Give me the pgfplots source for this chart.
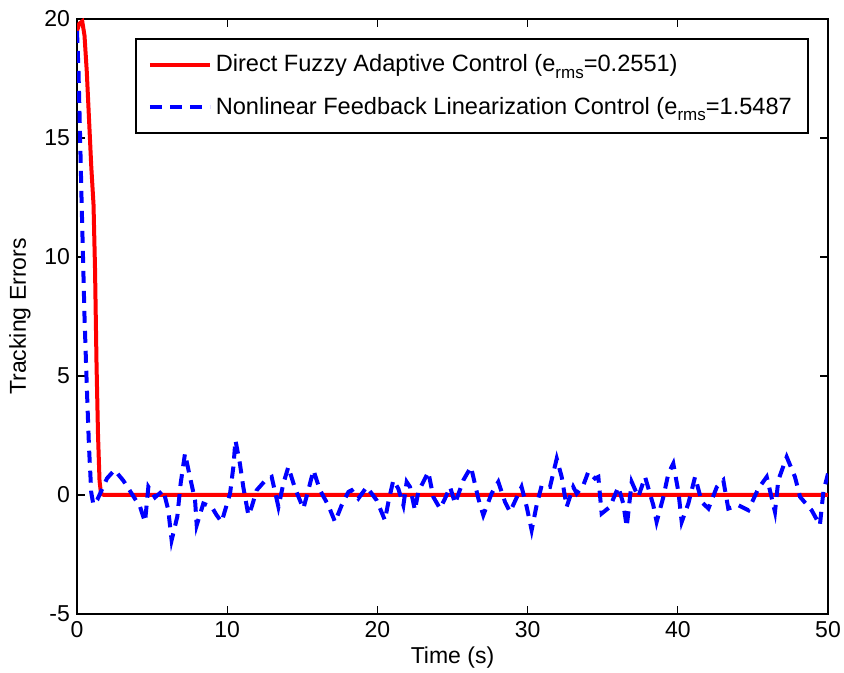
\documentclass[border=0pt]{standalone}
\usepackage{pgfplots}
\pgfplotsset{compat=1.18}
\usepackage{fontspec}
\setmainfont{Liberation Sans}
\newcommand{\sub}[1]{\raisebox{-0.55ex}{\fontsize{8.5}{9}\selectfont #1}}
\begin{document}
\begin{tikzpicture}
\begin{axis}[
  at={(0,0)}, anchor=south west,
  scale only axis, width=375.5pt, height=297.5pt,
  xmin=0, xmax=50, ymin=-5, ymax=20,
  xtick={0,10,...,50}, ytick={-5,0,...,20},
  tick align=inside, major tick length=4pt,
  tick style={black, line width=0.6pt},
  axis line style={black, line width=0.8pt},
  /pgf/number format/assume math mode=true,
  ticklabel style={font=\fontsize{11.5}{13}\selectfont},
  xlabel={Time (s)}, ylabel={Tracking Errors},
  label style={font=\fontsize{11.5}{13}\selectfont},
  xlabel style={at={(axis description cs:0.5,-0.074)}, anchor=center},
  ylabel style={at={(axis description cs:-0.0759,0.5)}, anchor=center},
  legend cell align=left,
  legend style={at={(rel axis cs:0.0772,0.968)}, anchor=north west,
    draw=black, line width=0.8pt, inner xsep=6pt, inner ysep=6pt, row sep=7pt,
    font=\fontsize{11.8}{13.5}\selectfont},
  legend image code/.code={\draw[#1] plot coordinates {(0pt,0pt) (15pt,0pt) (30pt,0pt)};},
]
\addplot[red, line width=2pt] coordinates {
(0,19.5)(0.15,19.8)(0.35,19.9)(0.5,19.3)(0.65,17.8)(0.8,15.8)(0.95,13.8)(1.1,12.2)(1.2,9.5)(1.3,5.5)(1.4,2.5)(1.5,0.6)(1.6,0.05)(1.8,0)(50,0)};
\addlegendentry{Direct Fuzzy Adaptive Control (e\sub{rms}=0.2551)}
\addplot[blue, line width=2pt, dash pattern=on 6pt off 4pt] coordinates {
(0,19.5)(0.1,17.8)(0.2,15.2)(0.3,12.5)(0.4,10)(0.5,7.5)(0.65,4.6)(0.8,2)(0.95,0.1)(1.09,-0.4)(1.35,-0.2)(1.64,0.2)(2.0,0.7)(2.5,1.05)(3.09,0.6)(3.64,0.06)(4.2,-0.5)(4.53,-1.13)(4.75,0.34)(5.19,-0.1)(5.75,0.2)(6.08,-0.64)(6.3,-1.9)(6.68,-0.9)(6.9,0.48)(7.19,1.74)(7.52,0.76)(7.86,-0.22)(7.97,-1.27)(8.41,-0.36)(8.97,-0.5)(9.3,-0.85)(9.63,-1.13)(10.19,0.06)(10.41,1.18)(10.55,2.3)(10.85,1.3)(11.07,0.34)(11.41,-0.85)(11.63,-0.5)(11.96,0.2)(12.52,0.6)(12.96,0.76)(13.41,-0.5)(13.74,0.48)(14.07,1.18)(14.52,0.27)(15.07,-0.57)(15.4,0.2)(15.74,1.04)(16.18,0.2)(16.73,-0.43)(17.18,-1.13)(17.62,-0.43)(18.07,0.13)(18.29,0.2)(18.73,-0.15)(19.29,0.34)(19.95,-0.22)(20.5,-1.06)(20.73,-0.3)(21.06,0.62)(21.39,0.27)(21.73,-0.43)(21.95,0.55)(22.17,0.34)(22.5,-0.64)(22.72,0.13)(23.39,0.97)(23.72,-0.08)(24.17,-0.57)(24.5,-0.15)(24.84,0.34)(25.17,-0.36)(25.72,0.62)(26.23,1.18)(26.72,-0.15)(27.05,-0.85)(27.6,0.06)(28.05,0.55)(28.5,-0.3)(28.83,-0.71)(29.6,0.34)(29.94,-0.5)(30.27,-1.48)(30.6,-0.43)(30.94,0.41)(31.49,0.34)(31.94,1.53)(32.27,0.76)(32.6,-0.5)(33.04,0.34)(33.27,0.06)(33.71,0.41)(34.04,0.97)(34.49,0.69)(34.71,0.76)(34.93,-0.78)(35.48,-0.5)(36.04,0.34)(36.37,-0.36)(36.6,-1.34)(36.93,0.55)(37.37,-0.08)(37.82,0.76)(38.37,-0.43)(38.59,-1.13)(39.04,-0.08)(39.37,0.9)(39.7,1.32)(40.04,0.13)(40.26,-1.13)(40.7,-0.36)(41.15,0.76)(41.6,-0.3)(42.04,-0.57)(42.6,0.34)(43.03,0.62)(43.36,-0.57)(44.03,-0.43)(44.7,-0.64)(45.36,0.27)(45.92,0.76)(46.47,-0.71)(46.69,0.62)(47.25,1.6)(47.8,0.76)(48.14,-0.08)(48.91,-0.64)(49.46,-1.27)(49.69,0.13)(50,0.9)};
\addlegendentry{Nonlinear Feedback Linearization Control (e\sub{rms}=1.5487}
\end{axis}
\pgfresetboundingbox
\path[use as bounding box] (-38.5pt,-29.5pt) rectangle (383.5pt,307pt);
\end{tikzpicture}
\end{document}
